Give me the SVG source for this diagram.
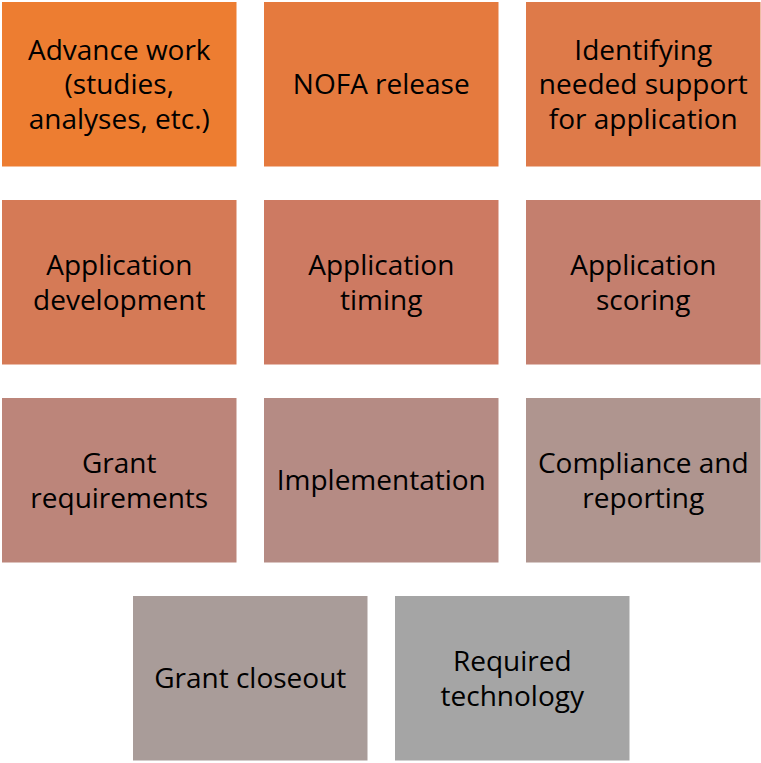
<svg xmlns="http://www.w3.org/2000/svg" width="761" height="763" viewBox="0 0 761 763">
<style>
rect{stroke:#ffffff;stroke-width:1}
text{font-family:"Open Sans","Liberation Sans",sans-serif;font-size:28px;fill:#000;text-anchor:middle}
</style>
<rect x="0" y="0" width="761" height="763" fill="#ffffff" style="stroke:none"/>
<g id="n1"><rect x="1.5" y="1.5" width="235.5" height="165.5" fill="#ED7D31"/><text x="119.25" y="59.5">Advance work</text><text x="119.25" y="94">(studies,</text><text x="119.25" y="128.5">analyses, etc.)</text></g>
<g id="n2"><rect x="263.5" y="1.5" width="235.5" height="165.5" fill="#E57A3E"/><text x="381.25" y="94">NOFA release</text></g>
<g id="n3"><rect x="525.5" y="1.5" width="235.5" height="165.5" fill="#DE7A49"/><text x="643.25" y="59.5">Identifying</text><text x="643.25" y="94">needed support</text><text x="643.25" y="128.5">for application</text></g>
<g id="n4"><rect x="1.5" y="199.5" width="235.5" height="165.5" fill="#D57A56"/><text x="119.25" y="275">Application</text><text x="119.25" y="309.5">development</text></g>
<g id="n5"><rect x="263.5" y="199.5" width="235.5" height="165.5" fill="#CD7A62"/><text x="381.25" y="275">Application</text><text x="381.25" y="309.5">timing</text></g>
<g id="n6"><rect x="525.5" y="199.5" width="235.5" height="165.5" fill="#C47F6E"/><text x="643.25" y="275">Application</text><text x="643.25" y="309.5">scoring</text></g>
<g id="n7"><rect x="1.5" y="397.5" width="235.5" height="165.5" fill="#BC857A"/><text x="119.25" y="473">Grant</text><text x="119.25" y="507.5">requirements</text></g>
<g id="n8"><rect x="263.5" y="397.5" width="235.5" height="165.5" fill="#B58B84"/><text x="381.25" y="490">Implementation</text></g>
<g id="n9"><rect x="525.5" y="397.5" width="235.5" height="165.5" fill="#AF958F"/><text x="643.25" y="473">Compliance and</text><text x="643.25" y="507.5">reporting</text></g>
<g id="n10"><rect x="132.5" y="595.5" width="235.5" height="165.5" fill="#A99C99"/><text x="250.25" y="688">Grant closeout</text></g>
<g id="n11"><rect x="394.5" y="595.5" width="235.5" height="165.5" fill="#A5A5A5"/><text x="512.25" y="671">Required</text><text x="512.25" y="705.5">technology</text></g>
<g id="connectors"/>
</svg>
